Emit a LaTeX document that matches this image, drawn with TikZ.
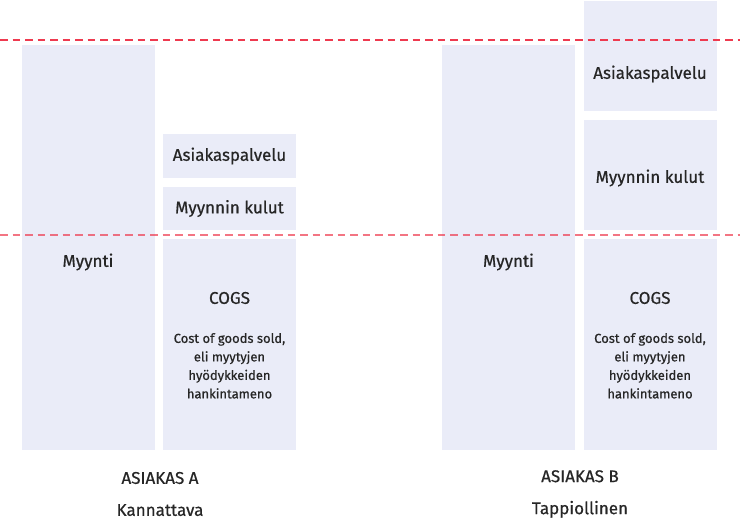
\documentclass[tikz,border=0pt]{standalone}
\usepackage{fontspec}
\setmainfont{Fira Sans}[UprightFeatures={FakeBold=0.6}]
\usetikzlibrary{positioning}

\definecolor{boxfill}{HTML}{EAECF8}
\definecolor{ink}{HTML}{262626}
\definecolor{limit}{HTML}{EE3A4F}

\begin{document}
\begin{tikzpicture}[
  x=1pt, y=-1pt,
  font=\fontsize{17}{20}\selectfont, text=ink,
  bar/.style={fill=boxfill, inner sep=0pt, minimum width=133pt},
  small/.style={font=\fontsize{13}{18.5}\selectfont, align=center},
  title/.style={font=\fontsize{17}{32}\selectfont, align=center},
  limitline/.style={draw=limit, line width=1.2pt, dash pattern=on 7.5pt off 5pt}
]
\useasboundingbox (0,0) rectangle (740,530);

% asiakas A
\node[bar, minimum height=405pt] (myyA) at (88,247.5) {};
\node[bar, minimum height=44pt] (asA) at (229.5,156) {Asiakaspalvelu};
\node[bar, minimum height=43pt] (kulA) at (229.5,208.5) {Myynnin kulut};
\node[bar, minimum height=211pt] (cogsA) at (229.5,344.5) {};
\node (myyAt) at (88,262) {Myynti};
\node (cogsAt) at (229.5,298) {COGS};
\node[small, below=22pt of cogsAt] (cogsAd) {Cost of goods sold,\\eli myytyjen\\hyödykkeiden\\hankintameno};
\node[title] (tA) at (160,494) {ASIAKAS A\\Kannattava};

% asiakas B
\node[bar, minimum height=405pt] (myyB) at (508.5,247.5) {};
\node[bar, minimum height=110pt] (asB) at (650,56) {};
\node[bar, minimum height=110pt] (kulB) at (650,175) {};
\node[bar, minimum height=211pt] (cogsB) at (650,344.5) {};
\node (asBt) at (650,74) {Asiakaspalvelu};
\node (kulBt) at (650,178) {Myynnin kulut};
\node (myyBt) at (508.5,262) {Myynti};
\node (cogsBt) at (650,298) {COGS};
\node[small, below=22pt of cogsBt] (cogsBd) {Cost of goods sold,\\eli myytyjen\\hyödykkeiden\\hankintameno};
\node[title] (tB) at (580,494) {ASIAKAS B\\Tappiollinen};

% rajat
\coordinate (topL) at (0,40);
\coordinate (topR) at (740,40);
\coordinate (midL) at (0,235);
\coordinate (midR) at (740,235);
\draw[limitline] (topL) -- (topR);
\draw[limitline, draw opacity=0.7] (midL) -- (midR);
\end{tikzpicture}
\end{document}
